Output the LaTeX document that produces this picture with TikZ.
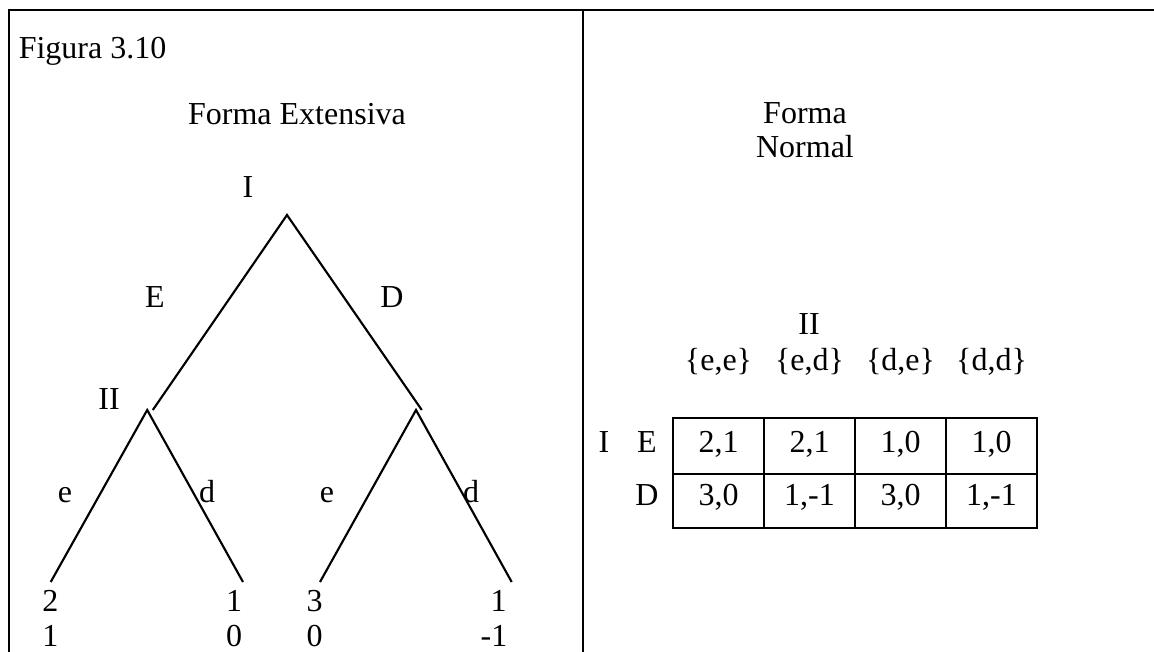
\documentclass[tikz,border=0pt]{standalone}
\usepackage{fontspec}
\setmainfont{Liberation Serif}
\begin{document}
\begin{tikzpicture}[x=0.75pt,y=-0.75pt,
  lbl/.style={inner sep=0pt,anchor=base,font=\fontsize{24}{28}\selectfont},
  frame/.style={line width=1.5pt},
  branch/.style={line width=1.6pt,line cap=butt},
  grid/.style={line width=1.4pt}]
\useasboundingbox (0,0) rectangle (1154,652);
% frame
\coordinate (fbl) at (8.5,652);
\coordinate (ftl) at (8.5,10.5);
\coordinate (ftr) at (1154,10.5);
\coordinate (fmt) at (583,10.5);
\coordinate (fmb) at (583,652);
\draw[frame] (fbl) -- (ftl) -- (ftr);
\draw[frame] (fmt) -- (fmb);
% titles
\node[lbl,anchor=base west] (fig) at (18.5,59) {Figura 3.10};
\node[lbl] (fext) at (297,125) {Forma Extensiva};
\node[lbl] (fnor1) at (805,124) {Forma};
\node[lbl] (fnor2) at (805,158) {Normal};
% tree
\coordinate (root) at (287,215);
\coordinate (eend) at (152.8,410);
\coordinate (nII) at (147.2,410);
\coordinate (dend) at (421.8,410);
\coordinate (nIIb) at (416,410);
\coordinate (l1) at (50.7,582);
\coordinate (l2) at (243,582);
\coordinate (l3) at (320,582);
\coordinate (l4) at (511.7,582);
\draw[branch] (eend) -- (root) -- (dend);
\draw[branch] (l1) -- (nII) -- (l2);
\draw[branch] (l3) -- (nIIb) -- (l4);
\node[lbl] (pI) at (248,198) {I};
\node[lbl] (bE) at (155,308) {E};
\node[lbl] (bD) at (392,308) {D};
\node[lbl] (pII) at (109,410) {II};
\node[lbl] (be1) at (65,503) {e};
\node[lbl] (bd1) at (207,503) {d};
\node[lbl] (be2) at (327,503) {e};
\node[lbl] (bd2) at (471,503) {d};
\node[lbl] (p1a) at (50.5,611.7) {2};
\node[lbl] (p1b) at (50.5,646.7) {1};
\node[lbl] (p2a) at (234,611.7) {1};
\node[lbl] (p2b) at (234,646.7) {0};
\node[lbl] (p3a) at (314.5,611.7) {3};
\node[lbl] (p3b) at (314.5,646.7) {0};
\node[lbl] (p4a) at (498.5,611.7) {1};
\node[lbl] (p4b) at (494,646.7) {-1};
% normal form
\node[lbl] (nII2) at (809,335) {II};
\node[lbl] (h1) at (718.5,371) {\{e,e\}};
\node[lbl] (h2) at (809.5,371) {\{e,d\}};
\node[lbl] (h3) at (900.5,371) {\{d,e\}};
\node[lbl] (h4) at (991.5,371) {\{d,d\}};
\draw[grid] (673,418) rectangle (1037,528);
\draw[grid] (673,474) -- (1037,474);
\draw[grid] (764,418) -- (764,528);
\draw[grid] (855,418) -- (855,528);
\draw[grid] (946,418) -- (946,528);
\node[lbl] (rI) at (604,453) {I};
\node[lbl] (rE) at (647,453) {E};
\node[lbl] (rD) at (647,505) {D};
\node[lbl] (c11) at (718.5,453) {2,1};
\node[lbl] (c12) at (809.5,453) {2,1};
\node[lbl] (c13) at (900.5,453) {1,0};
\node[lbl] (c14) at (991.5,453) {1,0};
\node[lbl] (c21) at (718.5,505) {3,0};
\node[lbl] (c22) at (809.5,505) {1,-1};
\node[lbl] (c23) at (900.5,505) {3,0};
\node[lbl] (c24) at (991.5,505) {1,-1};
\end{tikzpicture}
\end{document}
